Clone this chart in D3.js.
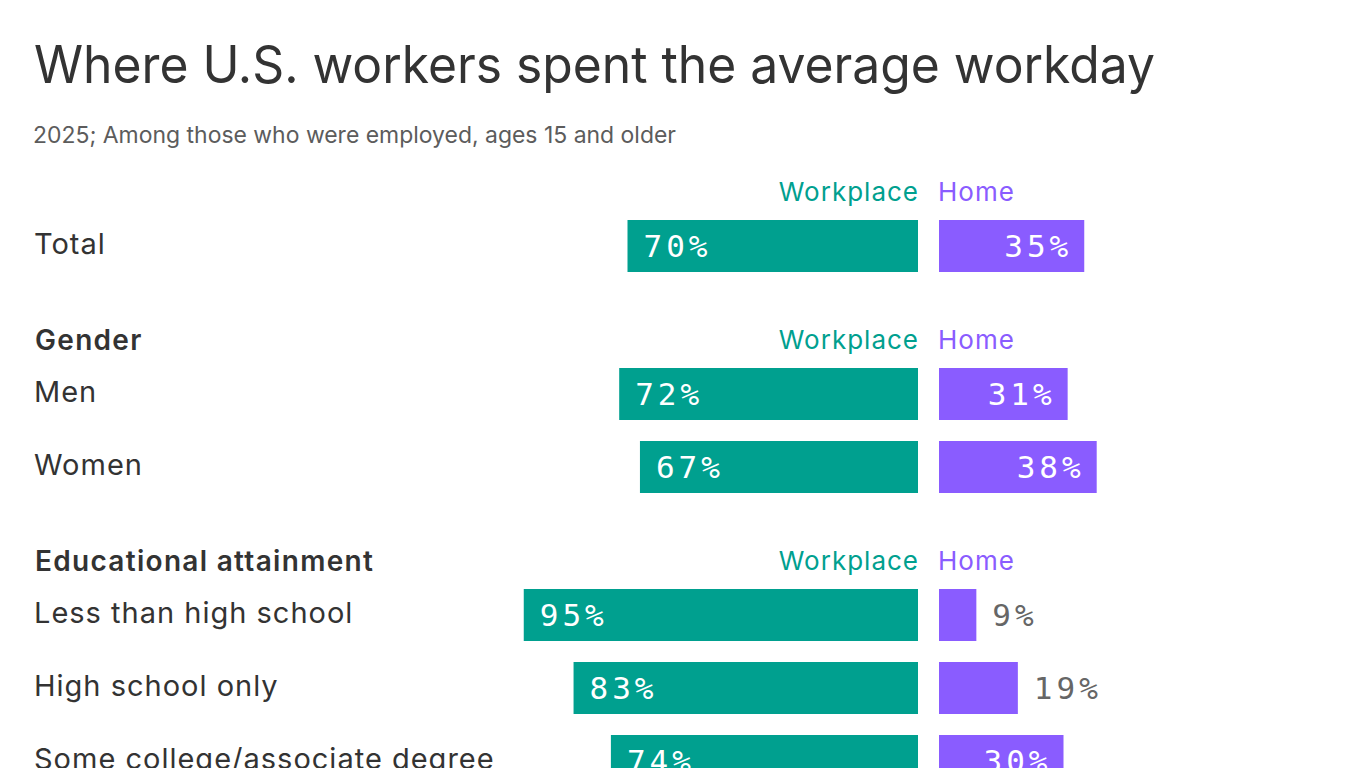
<!DOCTYPE html>
<html>
<head>
<meta charset="utf-8">
<script src="https://cdn.jsdelivr.net/npm/d3@7"></script>
<style>
  html, body { margin: 0; padding: 0; background: #fff; overflow: hidden; }
  svg { display: block; }
</style>
</head>
<body>
<svg id="chart" width="1366" height="768"></svg>
<script>
// data
var groups = ["", "Gender", "Educational attainment"];
var categories = ["Total", "Men", "Women", "Less than high school", "High school only", "Some college/associate degree"];
var categoryGroup = [0, 1, 1, 2, 2, 2];
var workplaceValues = [70, 72, 67, 95, 83, 74];
var homeValues = [35, 31, 38, 9, 19, 30];
var seriesNames = ["Workplace", "Home"];

var TEAL = "#00a08f", PURPLE = "#8a5cff", INK = "#333333", GREY = "#666666";
var SANS = "Inter, 'Liberation Sans', sans-serif";
var MONO = "'DejaVu Sans Mono', monospace";

var svg = d3.select("#chart");

svg.append("text")
  .attr("x", 34).attr("y", 83)
  .attr("textLength", 1121).attr("lengthAdjust", "spacingAndGlyphs")
  .style("font-family", SANS).style("font-size", "52px")
  .style("fill", INK)
  .text("Where U.S. workers spent the average workday");

svg.append("text")
  .attr("x", 33).attr("y", 143)
  .attr("textLength", 643).attr("lengthAdjust", "spacingAndGlyphs")
  .style("font-family", SANS).style("font-size", "23px")
  .style("fill", "#5c5c5c")
  .text("2025; Among those who were employed, ages 15 and older");

// horizontal: one scale for both sides, bars grow away from the gap
var midLeft = 918, midRight = 939;
var x = d3.scaleLinear().domain([0, 100]).range([0, 415]);

// vertical layout: header line, then rows
var BAR_H = 52, ROW_STEP = 73, HEAD_TO_BAR = 28, BAR_TO_HEAD = 120;
var rows = [], heads = [];
var cursor = 192;
groups.forEach(function(g, gi) {
  heads.push({name: g, y: cursor});
  var y = cursor + HEAD_TO_BAR;
  var last = y;
  categories.forEach(function(c, i) {
    if (categoryGroup[i] !== gi) return;
    rows.push({name: c, work: workplaceValues[i], home: homeValues[i], y: y});
    last = y;
    y += ROW_STEP;
  });
  cursor = last + BAR_TO_HEAD;
});

var head = svg.selectAll("g.head").data(heads).enter().append("g").attr("class", "head");
head.append("text")
  .attr("x", 35).attr("y", function(d) { return d.y + 10; })
  .style("font-family", SANS).style("font-size", "28px").style("font-weight", "600")
  .style("letter-spacing", "1.3px")
  .style("fill", INK)
  .text(function(d) { return d.name; });
head.append("text")
  .attr("x", midLeft + 1).attr("y", function(d) { return d.y + 9; })
  .attr("text-anchor", "end")
  .style("font-family", SANS).style("font-size", "26px").style("letter-spacing", "1px")
  .style("fill", TEAL)
  .text(seriesNames[0]);
head.append("text")
  .attr("x", midRight - 1).attr("y", function(d) { return d.y + 9; })
  .style("font-family", SANS).style("font-size", "26px").style("letter-spacing", "1px")
  .style("fill", PURPLE)
  .text(seriesNames[1]);

var row = svg.selectAll("g.row").data(rows).enter().append("g").attr("class", "row");

row.append("text")
  .attr("x", 34).attr("y", function(d) { return d.y + BAR_H / 2 + 8; })
  .style("font-family", SANS).style("font-size", "29px").style("letter-spacing", "1px")
  .style("fill", INK)
  .text(function(d) { return d.name; });

row.append("rect")
  .attr("x", function(d) { return midLeft - x(d.work); })
  .attr("y", function(d) { return d.y; })
  .attr("width", function(d) { return x(d.work); })
  .attr("height", BAR_H)
  .style("fill", TEAL);

row.append("rect")
  .attr("x", midRight)
  .attr("y", function(d) { return d.y; })
  .attr("width", function(d) { return x(d.home); })
  .attr("height", BAR_H)
  .style("fill", PURPLE);

row.append("text")
  .attr("x", function(d) { return midLeft - x(d.work) + 16; })
  .attr("y", function(d) { return d.y + BAR_H / 2 + 11; })
  .style("font-family", MONO).style("font-size", "31px").style("letter-spacing", "4px")
  .style("fill", "#fff")
  .text(function(d) { return d.work + "%"; });

// home labels sit inside when the bar is wide enough, otherwise outside in grey
row.append("text")
  .attr("x", function(d) { return d.home >= 25 ? midRight + x(d.home) - 12 : midRight + x(d.home) + 16; })
  .attr("y", function(d) { return d.y + BAR_H / 2 + 11; })
  .attr("text-anchor", function(d) { return d.home >= 25 ? "end" : "start"; })
  .style("font-family", MONO).style("font-size", "31px").style("letter-spacing", "4px")
  .style("fill", function(d) { return d.home >= 25 ? "#fff" : GREY; })
  .text(function(d) { return d.home + "%"; });
</script>
</body>
</html>
